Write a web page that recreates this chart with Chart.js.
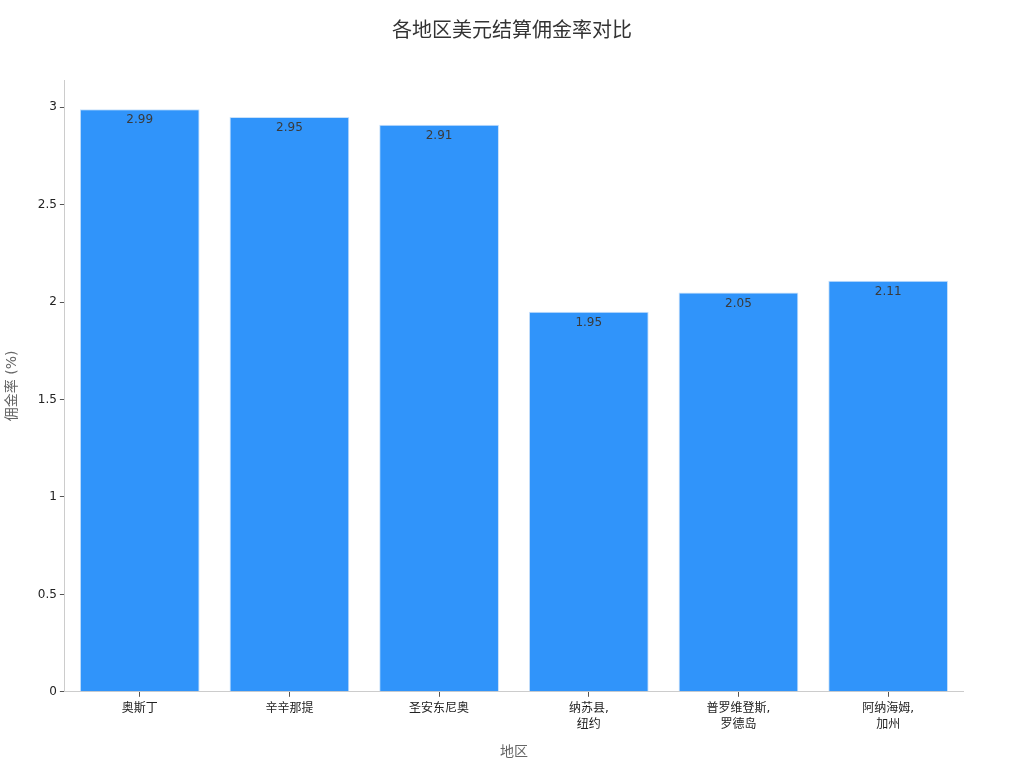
<!DOCTYPE html>
<html>
<head>
<meta charset="utf-8">
<script src="https://cdn.jsdelivr.net/npm/chart.js@4"></script>
<style>
  html, body { margin: 0; padding: 0; background: #fff; }
  #wrap { width: 1024px; height: 768px; }
</style>
</head>
<body>
<div id="wrap"><canvas id="barChart"></canvas></div>
<script>
const chartTitle = '各地区美元结算佣金率对比';
const regions = [
  '奥斯丁',
  '辛辛那提',
  '圣安东尼奥',
  ['纳苏县,', '纽约'],
  ['普罗维登斯,', '罗德岛'],
  ['阿纳海姆,', '加州']
];
const rates = [2.99, 2.95, 2.91, 1.95, 2.05, 2.11];
const yTicks = [0, 0.5, 1, 1.5, 2, 2.5, 3];

const FONT = "'DejaVu Sans', 'Noto Sans CJK SC', sans-serif";

// title centred on the whole canvas, not the padded box
const pageTitle = {
  id: 'pageTitle',
  afterDraw(chart) {
    const ctx = chart.ctx;
    ctx.save();
    ctx.font = '20px ' + FONT;
    ctx.fillStyle = '#333333';
    ctx.textAlign = 'center';
    ctx.textBaseline = 'middle';
    ctx.fillText(chartTitle, chart.width / 2, 32);
    ctx.restore();
  }
};

// value labels just inside the top of each bar
const barLabels = {
  id: 'barLabels',
  afterDatasetsDraw(chart) {
    const ctx = chart.ctx;
    const meta = chart.getDatasetMeta(0);
    ctx.save();
    ctx.font = '12px ' + FONT;
    ctx.fillStyle = '#3a3a3a';
    ctx.textAlign = 'center';
    ctx.textBaseline = 'top';
    meta.data.forEach((bar, i) => {
      ctx.fillText(rates[i].toFixed(2), bar.x, bar.y + 5);
    });
    ctx.restore();
  }
};

const data = {
  labels: regions,
  datasets: [{
    label: '佣金率 (%)',
    backgroundColor: 'rgb(48, 148, 250)',
    borderColor: 'rgba(200, 225, 250, 1)',
    borderWidth: 1,
    barPercentage: 0.8,
    categoryPercentage: 1.0,
    data: rates,
  }]
};

const config = {
  type: 'bar',
  data: data,
  options: {
    responsive: false,
    animation: false,
    layout: { padding: { left: 4, right: 61, top: 80, bottom: 7 } },
    plugins: {
      legend: { display: false },
      tooltip: { enabled: false },
      title: { display: false }
    },
    scales: {
      x: {
        grid: {
          offset: false,
          drawOnChartArea: false,
          drawTicks: true,
          tickLength: 5,
          color: '#555555'
        },
        border: { display: true, color: '#cccccc', width: 1 },
        ticks: {
          color: '#222222',
          font: { family: FONT, size: 12, lineHeight: 1.35 },
          maxRotation: 0,
          padding: 4
        },
        title: {
          display: true,
          text: '地区',
          color: '#666666',
          font: { family: FONT, size: 14 },
          padding: { top: 7, bottom: 0 }
        }
      },
      y: {
        min: 0,
        max: 3.14,
        afterBuildTicks(axis) {
          axis.ticks = yTicks.map(v => ({ value: v }));
        },
        grid: {
          drawOnChartArea: false,
          drawTicks: true,
          tickLength: 5,
          color: '#555555'
        },
        border: { display: true, color: '#cccccc', width: 1 },
        ticks: {
          color: '#222222',
          font: { family: FONT, size: 12 },
          padding: 3,
          callback: v => String(v)
        },
        title: {
          display: true,
          text: '佣金率 (%)',
          color: '#666666',
          font: { family: FONT, size: 14 },
          padding: { top: 0, bottom: 14 }
        }
      }
    }
  },
  plugins: [barLabels, pageTitle]
};

const canvas = document.getElementById('barChart');
canvas.width = 1024;
canvas.height = 768;
//eslint-disable-next-line
const barChart = new Chart(canvas, config);
</script>
</body>
</html>
